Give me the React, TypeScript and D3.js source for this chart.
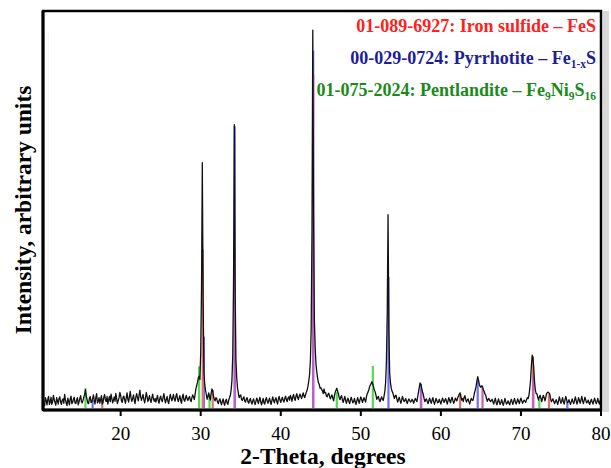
import React from "react";
import * as d3 from "d3";

// ---- data ----
const thetaStart = 10.4;
const thetaStep = 0.1;
const intensity: number[] = [
  1.2, 0.6, 2.6, 1.9, 0.8, 2.2, 2.9, 0.9, 1.5, 2.7, 0.9, 1.6, 3.2, 2.0, 1.4, 0.7, 2.6, 1.8, 1.0, 2.4,
  2.8, 1.5, 0.9, 2.0, 2.3, 1.2, 3.4, 2.1, 1.2, 0.6, 2.5, 1.7, 0.8, 2.3, 3.0, 1.1, 1.4, 2.2, 2.7, 1.3,
  1.1, 2.0, 2.6, 0.8, 1.5, 2.4, 3.1, 1.6, 1.3, 2.0, 2.8, 3.4, 4.6, 3.0, 2.2, 1.2, 1.1, 2.5, 2.9, 1.4,
  1.5, 2.4, 3.3, 1.9, 1.0, 2.7, 3.6, 1.3, 1.7, 2.6, 1.2, 2.2, 3.1, 1.0, 1.4, 2.8, 3.4, 2.0, 1.6, 2.9,
  1.0, 2.1, 2.9, 1.6, 3.5, 2.4, 1.3, 2.0, 2.8, 1.7, 3.7, 2.3, 1.1, 1.9, 2.6, 3.9, 3.2, 1.8, 1.4, 2.7,
  3.0, 2.0, 1.2, 2.6, 3.8, 2.2, 1.5, 2.9, 4.2, 2.5, 1.7, 2.4, 3.3, 2.0, 1.1, 2.8, 3.6, 2.6, 1.8, 3.2,
  4.5, 2.8, 1.9, 2.7, 3.4, 2.1, 1.3, 2.5, 3.9, 2.9, 1.6, 2.3, 3.1, 2.0, 1.4, 2.6, 3.5, 2.2, 1.7, 2.4,
  1.5, 2.3, 3.2, 1.8, 1.2, 2.5, 3.0, 2.0, 1.6, 2.7, 3.6, 2.2, 1.3, 2.1, 2.9, 1.7, 1.1, 2.4, 3.4, 2.5,
  1.8, 2.6, 3.4, 2.2, 1.7, 2.9, 3.6, 2.3, 1.6, 2.4, 3.1, 1.9, 1.2, 2.7, 3.5, 2.1, 1.7, 2.5, 3.2, 2.3,
  1.9, 2.5, 2.9, 2.0, 1.6, 2.6, 3.3, 2.8, 2.1, 3.5, 4.8, 5.6, 6.5, 7.6, 8.0, 7.2, 14, 30, 61.8, 28,
  9, 6.0, 4.5, 3.4, 2.2, 3.0, 3.8, 2.7, 2.0, 3.6, 4.8, 4.4, 2.9, 2.2, 1.8, 2.6, 2.4, 1.5, 1.1, 1.9,
  2.3, 1.4, 0.8, 1.7, 2.3, 1.2, 0.7, 1.8, 2.2, 1.3, 0.9, 2.0, 2.6, 3.2, 4.5, 7, 13, 32, 71.4, 30,
  12, 7.5, 5, 3.8, 2.6, 3.1, 3.3, 2.2, 1.9, 2.5, 2.8, 1.7, 1.5, 2.3, 2.6, 1.6, 1.2, 2.0, 2.4, 1.5,
  1.0, 1.8, 2.3, 1.4, 0.9, 1.7, 2.5, 1.9, 1.1, 2.0, 2.7, 1.5, 0.8, 1.6, 2.4, 1.3, 1.0, 2.1, 2.6, 1.7,
  1.2, 1.9, 2.5, 1.5, 0.9, 2.0, 2.8, 1.8, 1.3, 2.2, 2.6, 1.6, 1.0, 2.3, 2.9, 2.0, 1.4, 2.1, 2.7, 1.9,
  1.5, 2.4, 3.0, 2.1, 1.6, 2.5, 2.8, 2.0, 3.2, 2.6, 1.7, 2.8, 3.4, 2.4, 1.9, 2.9, 3.6, 2.7, 2.1, 3.0,
  3.5, 2.9, 2.4, 3.2, 3.8, 3.0, 2.6, 3.4, 4.0, 4.6, 5.5, 6.8, 8.5, 12, 20, 45, 95.2, 48, 22, 15,
  11, 9, 7.5, 6.4, 6.0, 5.0, 5.2, 4.6, 4.4, 3.6, 4.8, 3.8, 3.9, 3.0, 2.8, 3.5, 3.7, 2.9, 2.3, 2.9,
  3.3, 2.5, 1.8, 3.0, 4.0, 4.5, 5.0, 4.2, 3.6, 2.6, 2.1, 2.8, 3.1, 2.0, 1.4, 2.2, 2.9, 1.9, 1.2, 2.0,
  2.5, 1.7, 1.1, 1.9, 2.7, 2.0, 1.3, 1.6, 2.4, 1.5, 0.9, 1.8, 2.6, 1.9, 1.2, 2.1, 2.8, 2.2, 1.4, 2.0,
  2.6, 2.0, 1.5, 2.8, 3.6, 4.0, 4.6, 5.4, 5.8, 6.2, 6.6, 6.0, 5.2, 4.5, 4.0, 3.1, 2.2, 2.7, 2.9, 2.0,
  1.6, 2.3, 2.8, 2.2, 1.9, 3.0, 4.2, 6.5, 12, 24, 48.7, 20, 9, 6.4, 5.0, 4.2, 3.8, 3.0, 2.4, 3.1,
  3.2, 2.3, 1.5, 2.1, 2.7, 1.9, 1.2, 2.0, 2.9, 2.2, 1.6, 1.9, 2.4, 1.7, 1.1, 1.8, 2.3, 1.9, 1.5, 1.7,
  2.2, 1.8, 1.2, 1.9, 2.4, 2.0, 1.6, 2.8, 4.0, 5.2, 6.3, 6.0, 5.0, 4.1, 3.4, 2.4, 1.6, 2.1, 2.3, 1.6,
  1.1, 1.9, 2.5, 1.7, 1.2, 2.0, 2.6, 1.6, 0.9, 1.7, 2.4, 1.8, 1.3, 1.5, 2.2, 1.6, 1.0, 1.8, 2.5, 1.9,
  1.4, 2.0, 2.4, 1.6, 1.0, 1.9, 2.6, 1.8, 1.3, 2.2, 2.7, 1.9, 1.2, 1.7, 2.5, 2.1, 1.8, 2.6, 3.0, 3.5,
  3.8, 2.9, 2.0, 2.4, 1.6, 2.7, 3.1, 2.2, 1.5, 2.0, 2.3, 1.6, 1.0, 1.8, 2.4, 2.0, 1.9, 2.8, 3.8, 4.6,
  5.5, 6.8, 7.9, 7.0, 6.0, 5.4, 5.2, 5.6, 5.4, 4.6, 4.2, 3.6, 3.2, 2.4, 1.7, 2.2, 2.4, 1.9, 1.6, 1.9,
  2.2, 1.5, 1.0, 1.8, 2.5, 1.4, 0.8, 1.6, 2.3, 1.5, 0.9, 1.4, 2.1, 1.3, 0.7, 1.5, 2.4, 1.6, 1.0, 1.3,
  1.8, 1.2, 0.8, 1.6, 2.2, 1.5, 0.9, 1.7, 2.4, 1.6, 1.0, 1.5, 2.3, 1.7, 1.1, 1.9, 2.5, 1.8, 1.2, 1.6,
  2.0, 1.7, 1.4, 2.1, 2.6, 2.4, 3.2, 4.8, 7, 10.5, 13.3, 12.6, 10, 6.5, 4.5, 3.6, 3.6, 2.7, 2.0, 2.8,
  3.2, 2.4, 1.6, 2.5, 3.2, 2.6, 1.8, 2.7, 3.6, 3.9, 4.0, 3.8, 3.5, 2.4, 1.6, 1.9, 2.3, 1.7, 1.1, 1.6,
  2.1, 1.5, 0.9, 1.8, 2.8, 1.9, 1.2, 1.7, 2.6, 1.6, 1.0, 2.0, 2.9, 2.1, 1.3, 1.5, 2.1, 1.4, 0.9, 1.6,
  2.3, 1.6, 1.1, 1.9, 2.8, 1.8, 1.0, 1.7, 2.6, 1.9, 1.2, 2.0, 2.9, 1.8, 1.1, 1.9, 2.7, 2.0, 1.3, 1.5,
  2.0, 1.3, 0.9, 1.7, 2.2, 1.5, 1.0, 1.8, 2.5, 1.7, 1.1, 1.6, 2.4, 1.5, 1.0, 1.9, 2.3,
];

type Stick = { t: number; h: number };
const fesSticks: Stick[] = [
  { t: 17.7, h: 2.5 }, { t: 30.25, h: 40 }, { t: 31.5, h: 4.5 },
  { t: 62.4, h: 3.5 }, { t: 71.5, h: 13 }, { t: 73.5, h: 3.5 },
];
const pyrrhotiteSticks: Stick[] = [
  { t: 16.5, h: 2 }, { t: 30.4, h: 18 }, { t: 34.25, h: 71 }, { t: 44.05, h: 90 },
  { t: 53.45, h: 33 }, { t: 57.5, h: 6 }, { t: 64.6, h: 7 }, { t: 75.8, h: 1.5 },
];
const pentlanditeSticks: Stick[] = [
  { t: 15.6, h: 5 }, { t: 29.8, h: 10.5 }, { t: 31.1, h: 3.5 },
  { t: 47.0, h: 4 }, { t: 51.5, h: 10.6 }, { t: 72.3, h: 2 },
];
const sharedSticks: Stick[] = [
  { t: 34.25, h: 40 }, { t: 44.05, h: 84 }, { t: 57.55, h: 4 },
  { t: 65.2, h: 5 }, { t: 71.55, h: 8 },
];
const xTicks = [20, 30, 40, 50, 60, 70, 80];

const W = 611, H = 468;
const L = 43, R = 601, T = 11, B = 410;
const serif = "'Liberation Serif', 'Times New Roman', Times, serif";

export default function App() {
  const x = d3.scaleLinear().domain([10.3, 80]).range([L, R]);
  const y = d3.scaleLinear().domain([0, 100]).range([408, T]);
  const pts: [number, number][] = intensity.map((v, i) => [thetaStart + thetaStep * i, v]);
  const line = d3.line<[number, number]>().x((d) => x(d[0])).y((d) => y(d[1]));

  const sticks = (arr: Stick[], color: string, key: string) =>
    arr.map((s, i) => (
      <line key={key + i} x1={x(s.t)} x2={x(s.t)} y1={y(0)} y2={y(s.h)} stroke={color} strokeWidth={2.2} />
    ));

  return (
    <svg width={W} height={H} style={{ position: "absolute", left: 0, top: 0, background: "#fff", fontFamily: serif }}>
      <defs>
        <clipPath id="plot">
          <rect x={L} y={T} width={R - L} height={B - T} />
        </clipPath>
      </defs>
      <rect x={R + 2} y={T} width={6} height={B - T + 2} fill="#d8d8d8" />
      <line x1={L + 5} x2={L + 5} y1={T + 20} y2={B - 10} stroke="#eeeeee" strokeWidth={1} />
      <g clipPath="url(#plot)">
        {sticks(pyrrhotiteSticks, "#7070ff", "p")}
        {sticks(fesSticks, "#e87070", "f")}
        {sticks(pentlanditeSticks, "#50dd50", "g")}
        {sticks(sharedSticks, "#c060c0", "s")}
        <path d={line(pts) ?? ""} fill="none" stroke="#111" strokeWidth={1.3} strokeLinejoin="round" />
      </g>
      <rect x={L} y={T} width={R - L} height={B - T} fill="none" stroke="#000" strokeWidth={2.5} />
      <line x1={L} x2={R} y1={B} y2={B} stroke="#000" strokeWidth={3} />
      <line x1={L} x2={L} y1={T} y2={B} stroke="#000" strokeWidth={3} />
      {xTicks.map((t) => (
        <g key={t}>
          <line x1={x(t)} x2={x(t)} y1={B} y2={B + 6} stroke="#000" strokeWidth={2} />
          <text x={x(t)} y={440} textAnchor="middle" fontSize={19} style={{ fontFamily: serif }}>{t}</text>
        </g>
      ))}
      <text x={323} y={464} textAnchor="middle" fontSize={23.5} fontWeight="bold" style={{ fontFamily: serif }}>
        2-Theta, degrees
      </text>
      <text transform="translate(31,210) rotate(-90)" textAnchor="middle" fontSize={23.5} fontWeight="bold" style={{ fontFamily: serif }}>
        Intensity, arbitrary units
      </text>
      <g fontWeight="bold" fontSize={18} textAnchor="end" style={{ fontFamily: serif }}>
        <text x={596} y={32} fill="#ff2020">01-089-6927: Iron sulfide – FeS</text>
        <text x={596} y={64} fill="#1c1c9c">
          00-029-0724: Pyrrhotite – Fe<tspan fontSize={11.5} dy={4}>1-x</tspan><tspan dy={-4}>S</tspan>
        </text>
        <text x={596} y={96} fill="#1a8a1a">
          01-075-2024: Pentlandite – Fe<tspan fontSize={11.5} dy={4}>9</tspan><tspan dy={-4}>Ni</tspan>
          <tspan fontSize={11.5} dy={4}>9</tspan><tspan dy={-4}>S</tspan><tspan fontSize={11.5} dy={4}>16</tspan>
        </text>
      </g>
    </svg>
  );
}
